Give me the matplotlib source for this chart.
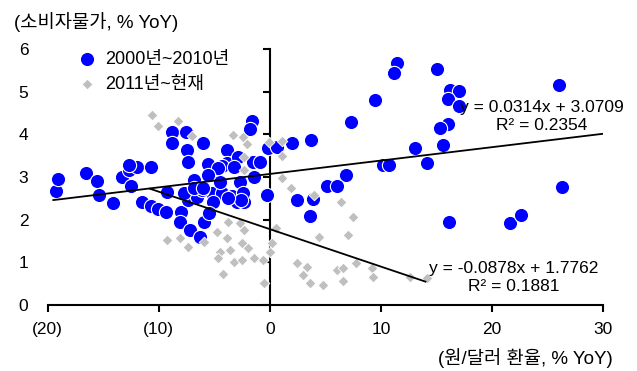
import matplotlib as mpl
mpl.use('Agg')
import matplotlib.pyplot as plt
import numpy as np

plt.rcParams['font.family'] = ['Liberation Sans', 'Noto Sans CJK KR', 'DejaVu Sans']

# 2000~2010: (won/dollar yoy, cpi yoy)
fx_0010 = [-19.3, -19.1, -16.6, -15.6, -15.4, -14.1, -13.3, -12.7, -12.0, -12.7,
           -12.5, -10.7, -11.5, -10.7, -10.1, -9.4, -9.3, -8.0, -8.1, -7.2,
           -6.3, -7.4, -6.6, -5.9, -5.2, -4.3, -5.1, -3.0, -2.3, -2.7,
           -0.3, -6.1, -4.5, -7.7, -8.8, -8.8, -7.6, -7.5, -6.0, -7.4,
           -5.6, -3.9, -1.6, -1.8, -3.9, -4.3, -4.7, -2.9, -3.2, -1.5,
           -0.9, -1.4, -5.6, -6.8, -6.8, -6.0, -0.2, 0.6, 2.0, 3.7,
           7.3, 9.5, 11.4, 11.2, 15.0, 16.2, 17.0, 16.0, 17.0, 16.0,
           15.3, 15.6, 13.1, 14.1, 10.2, 10.7, 6.8, 5.1, 6.0, 2.4,
           3.9, 3.6, 26.0, 26.3, 16.1, 21.6, 22.6, -3.4, -2.4, -5.5,
           -2.6, -3.8]
cpi_0010 = [2.68, 2.96, 3.10, 2.91, 2.58, 2.39, 3.00, 3.17, 3.24, 3.28,
            2.79, 3.24, 2.42, 2.32, 2.25, 2.18, 2.65, 2.18, 1.95, 1.76,
            1.59, 2.46, 2.53, 1.95, 2.62, 2.62, 2.41, 2.41, 2.41, 2.88,
            2.58, 2.70, 2.88, 2.62, 4.05, 3.80, 4.05, 3.63, 3.80, 3.35,
            3.30, 3.63, 4.31, 4.12, 3.33, 3.26, 3.21, 3.47, 3.23, 3.35,
            3.35, 3.00, 3.05, 2.93, 2.74, 2.74, 3.68, 3.70, 3.80, 3.87,
            4.29, 4.80, 5.67, 5.44, 5.53, 5.04, 5.02, 4.83, 4.66, 4.24,
            4.15, 3.75, 3.68, 3.33, 3.28, 3.28, 3.05, 2.79, 2.79, 2.46,
            2.48, 2.09, 5.16, 2.77, 1.95, 1.92, 2.11, 2.56, 2.62, 2.15,
            2.45, 2.50]

# 2011~
fx_11 = [-10.6, -10.1, -8.3, -7.0, -3.3, -2.4, -2.1, -2.3, -2.3, -0.1,
         1.1, 1.1, 1.1, 1.9, 4.0, 6.4, 7.5, 7.0, 4.4, 0.5,
         0.2, 0.0, 2.4, 3.3, 3.0, 3.6, 4.8, 6.0, 6.6, 6.6,
         7.7, 9.2, 9.3, 12.6, 14.1, -9.3, -8.1, -7.4, -5.9, -4.8,
         -3.9, -3.8, -2.7, -2.3, -2.5, -2.0, -4.5, -3.6, -4.7, -3.2,
         -2.5, -1.4, -0.6, -4.2, -0.5]
cpi_11 = [4.45, 4.20, 4.31, 3.96, 3.98, 3.94, 3.77, 3.47, 3.16, 3.82,
          3.84, 3.49, 2.98, 2.74, 2.58, 2.41, 2.06, 1.64, 1.59, 1.80,
          1.45, 1.24, 0.98, 0.89, 0.70, 0.52, 0.47, 0.82, 0.87, 0.56,
          0.98, 0.87, 0.66, 0.66, 0.63, 1.52, 1.57, 1.36, 1.48, 1.71,
          1.57, 1.95, 1.92, 1.76, 1.45, 1.34, 1.24, 1.29, 1.10, 1.01,
          1.05, 1.10, 1.05, 0.73, 0.52]

# trend lines (slope, intercept, x range)
fit_0010 = (0.0314, 3.0709, -19.5, 30.0)
fit_11 = (-0.0878, 1.7762, -10.8, 14.0)

fig = plt.figure(figsize=(6.37, 3.71), dpi=100)
ax = fig.add_axes([0.075, 0.178, 0.872, 0.69])

ax.scatter(fx_0010, cpi_0010, s=105, c='#0000FF', edgecolors='white',
           linewidths=0.8, zorder=3, label='2000년~2010년', clip_on=False)
ax.scatter(fx_11, cpi_11, s=30, marker='D', c='#BFBFBF', edgecolors='white',
           linewidths=0.6, zorder=4, label='2011년~현재', clip_on=False)

for a, b, x0, x1 in (fit_0010, fit_11):
    xs = np.array([x0, x1])
    ax.plot(xs, a * xs + b, color='black', lw=1.3, zorder=5)

ax.text(24.5, 4.42, 'y = 0.0314x + 3.0709\nR² = 0.2354', ha='center', va='center',
        fontsize=12.5, linespacing=1.2, zorder=6)
ax.text(21.9, 0.64, 'y = -0.0878x + 1.7762\nR² = 0.1881', ha='center', va='center',
        fontsize=12.5, linespacing=1.2, zorder=6)

ax.set_xlim(-20, 30)
ax.set_ylim(0, 6)
ax.set_xticks([-20, -10, 0, 10, 20, 30])
ax.set_xticklabels(['(20)', '(10)', '0', '10', '20', '30'])
ax.set_yticks(range(7))
for s in ['top', 'right', 'left']:
    ax.spines[s].set_visible(False)
ax.spines['bottom'].set_linewidth(1.5)
ax.tick_params(axis='x', direction='out', length=5, width=1.5, labelsize=12.5, pad=7)
ax.tick_params(axis='y', length=0, labelsize=12.5, pad=14)

# vertical axis drawn at x = 0
sec = ax.secondary_yaxis(0.4)
sec.set_yticks(range(7))
sec.set_yticklabels([])
sec.spines['left'].set_linewidth(1.5)
sec.tick_params(direction='out', length=5, width=1.5)

ax.legend(loc='upper left', bbox_to_anchor=(0.025, 1.02), frameon=False, fontsize=13,
          handletextpad=0.0, labelspacing=0.45, borderaxespad=0)

fig.text(0.022, 0.94, '(소비자물가, % YoY)', fontsize=13.5, va='center')
fig.text(0.962, 0.035, '(원/달러 환율, % YoY)', fontsize=13.5, va='center', ha='right')

fig.savefig('out.png', dpi=100)
